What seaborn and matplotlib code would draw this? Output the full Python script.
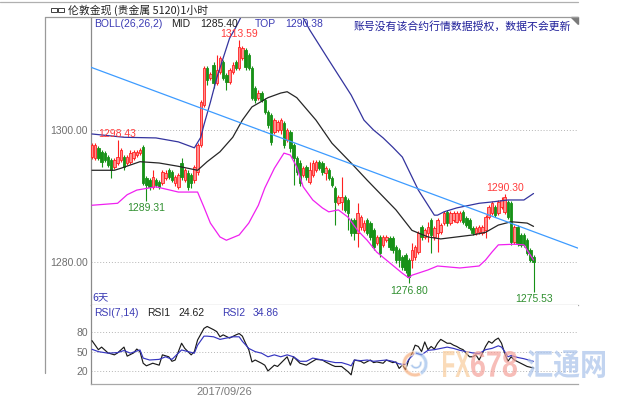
import numpy as np
import pandas as pd
import matplotlib
matplotlib.use("Agg")
import matplotlib.pyplot as plt
import seaborn as sns
from matplotlib.lines import Line2D
from matplotlib.patches import Polygon, Rectangle, Wedge, PathPatch
from matplotlib.textpath import TextPath
from matplotlib.font_manager import FontProperties
from matplotlib.transforms import Affine2D, IdentityTransform

# ---------------- data ----------------
open_ = [1295.9,1295.8,1297.3,1296.7,1296.5,1295.9,1295.5,1294.4,1295.0,1295.5,
         1295.9,1295.0,1295.2,1295.8,1296.2,1296.5,1297.4,1292.7,1292.4,1291.4,
         1292.4,1292.1,1292.0,1292.7,1293.9,1293.6,1292.0,1291.4,1295.0,1292.4,
         1293.5,1293.2,1292.4,1293.6,1297.7,1303.8,1309.4,1307.9,1309.9,1307.1,
         1308.8,1310.3,1308.3,1307.3,1308.8,1310.3,1309.4,1310.9,1312.1,1311.4,
         1309.4,1306.4,1304.9,1305.6,1304.5,1302.7,1302.3,1299.7,1300.0,1300.0,
         1301.1,1298.5,1299.7,1297.7,1295.8,1295.0,1293.2,1294.4,1292.1,1293.2,
         1293.9,1295.2,1295.0,1293.5,1293.9,1292.7,1291.2,1288.9,1289.1,1289.9,
         1289.4,1286.4,1286.4,1284.4,1285.3,1284.8,1286.4,1285.9,1284.8,1282.9,
         1283.8,1282.6,1283.3,1283.6,1283.6,1282.3,1281.8,1280.8,1281.1,1280.3,
         1280.3,1280.8,1281.5,1285.3,1283.8,1284.4,1286.4,1283.8,1284.4,1284.5,
         1285.9,1287.6,1285.9,1286.4,1286.1,1286.4,1287.6,1286.7,1286.4,1285.2,
         1284.4,1284.5,1284.4,1284.8,1286.8,1287.4,1288.3,1287.4,1288.3,1287.6,
         1289.1,1288.9,1283.0,1285.3,1284.1,1284.1,1283.3,1281.8,1280.8]
high = [1298.0,1298.0,1297.6,1297.0,1296.8,1296.2,1295.8,1295.8,1298.43,1297.3,
        1296.2,1296.2,1297.0,1297.0,1297.0,1297.3,1297.7,1293.0,1292.7,1293.9,
        1292.7,1292.4,1293.9,1293.9,1294.2,1293.9,1293.2,1293.5,1295.8,1294.2,
        1293.9,1293.5,1294.7,1298.0,1304.5,1309.7,1309.7,1308.8,1310.3,1311.4,
        1311.2,1310.6,1308.6,1309.4,1310.3,1310.6,1313.59,1312.7,1312.4,1311.7,
        1309.7,1306.7,1306.1,1305.9,1304.9,1303.0,1302.6,1301.8,1301.5,1301.8,
        1301.4,1300.3,1300.0,1298.0,1296.1,1295.5,1294.5,1294.7,1295.2,1295.5,
        1295.5,1295.5,1295.3,1294.5,1294.2,1293.0,1291.5,1290.2,1292.9,1290.2,
        1289.7,1286.7,1286.7,1288.9,1287.1,1286.4,1286.7,1286.2,1285.2,1284.1,
        1284.1,1284.1,1284.1,1283.9,1283.9,1282.6,1282.1,1281.1,1281.4,1280.6,
        1282.9,1282.6,1284.7,1285.6,1285.2,1286.1,1286.7,1285.5,1286.7,1285.9,
        1287.7,1287.9,1287.7,1287.7,1287.7,1287.7,1287.9,1287.0,1286.7,1285.5,
        1285.5,1285.6,1285.6,1287.1,1288.6,1289.2,1288.6,1289.4,1289.9,1290.30,
        1289.4,1289.2,1285.6,1285.6,1284.4,1284.4,1283.6,1282.1,1281.1]
low = [1295.6,1295.5,1295.5,1294.4,1295.2,1294.4,1292.7,1294.1,1294.7,1295.2,
       1293.9,1294.7,1294.8,1295.5,1295.9,1296.2,1291.7,1289.31,1290.9,1291.1,
       1291.4,1291.1,1291.7,1292.4,1292.6,1292.1,1291.5,1291.1,1292.4,1292.1,
       1290.9,1291.2,1292.0,1293.2,1297.4,1303.5,1306.8,1307.6,1306.4,1306.8,
       1308.5,1307.6,1306.1,1307.0,1308.5,1309.1,1309.1,1310.6,1309.1,1309.1,
       1304.5,1304.1,1304.5,1304.2,1302.4,1300.3,1297.7,1299.4,1299.7,1299.4,
       1297.3,1298.2,1296.7,1291.7,1293.2,1291.5,1292.9,1292.4,1291.8,1292.9,
       1293.6,1293.9,1293.2,1292.4,1292.4,1291.4,1285.6,1288.6,1287.9,1287.6,
       1284.8,1283.9,1283.3,1282.3,1284.8,1284.5,1284.1,1283.3,1281.8,1282.6,
       1280.8,1282.3,1283.0,1281.8,1281.4,1279.9,1279.3,1278.8,1278.3,1276.80,
       1279.1,1280.3,1281.2,1283.3,1283.5,1283.0,1281.4,1283.3,1281.5,1284.2,
       1285.6,1285.5,1285.6,1286.1,1285.9,1286.1,1285.8,1285.3,1284.8,1284.1,
       1284.1,1284.2,1284.1,1283.6,1286.5,1287.1,1286.8,1287.1,1288.0,1287.3,
       1286.5,1282.6,1282.7,1282.4,1282.3,1282.3,1281.1,1280.0,1275.53]
close = [1297.7,1297.7,1295.8,1295.2,1295.5,1294.7,1293.9,1295.5,1295.9,1297.0,
         1294.4,1295.9,1296.5,1296.7,1296.7,1297.0,1292.0,1291.7,1291.4,1292.9,
         1291.7,1291.4,1293.6,1293.5,1292.9,1292.4,1292.9,1293.2,1292.9,1293.9,
         1291.4,1292.0,1294.4,1297.7,1304.2,1309.4,1307.6,1308.5,1307.1,1309.1,
         1310.9,1307.9,1307.3,1309.1,1309.9,1309.4,1312.6,1312.4,1309.5,1309.4,
         1304.9,1304.5,1305.6,1304.5,1302.7,1300.8,1298.2,1301.5,1301.2,1301.5,
         1297.7,1300.0,1297.3,1295.8,1293.6,1292.0,1294.2,1292.9,1293.9,1295.0,
         1295.2,1294.2,1293.6,1294.2,1292.7,1291.7,1289.1,1289.9,1289.9,1287.9,
         1287.4,1284.4,1284.4,1287.4,1286.8,1285.9,1284.4,1283.8,1282.3,1283.8,
         1281.4,1283.8,1283.8,1282.3,1281.8,1280.3,1280.3,1279.3,1278.8,1277.7,
         1281.8,1282.3,1284.4,1283.8,1284.8,1285.3,1284.1,1285.2,1286.4,1285.6,
         1287.4,1285.9,1287.4,1287.4,1287.4,1287.4,1286.1,1285.6,1285.2,1284.4,
         1285.2,1285.3,1285.3,1286.8,1288.3,1288.9,1287.1,1289.1,1289.4,1289.9,
         1286.8,1283.0,1285.3,1282.9,1282.6,1282.6,1281.4,1280.3,1280.0]

upper_idx = [0, 10, 20, 27, 32, 34, 35, 37, 39, 41, 43, 45, 48, 55, 62, 66, 68, 74, 81, 85,
             88, 91, 94, 97, 99, 102, 107, 108, 110, 114, 121, 125, 130, 135, 138]
upper_val = [1299.4, 1298.9, 1298.8, 1298.2, 1297.3, 1298.9, 1300.8, 1304.2, 1307.9, 1310.9,
             1313.9, 1315.6, 1318.5, 1321.0, 1320.5, 1317.0, 1315.2, 1310.6, 1305.3, 1301.5,
             1300.0, 1298.8, 1297.4, 1295.9, 1293.9, 1290.9, 1287.1, 1287.1, 1287.6, 1288.2,
             1288.9, 1289.1, 1289.4, 1289.4, 1290.38]
mid_idx = [0, 7, 9, 15, 21, 27, 33, 36, 40, 44, 47, 50, 55, 59, 61, 64, 70, 75, 81, 86,
           91, 95, 100, 105, 109, 114, 119, 123, 127, 131, 136, 138]
mid_val = [1293.9, 1293.9, 1294.2, 1295.2, 1295.0, 1294.5, 1293.9, 1295.2, 1296.7, 1298.9,
           1301.5, 1303.5, 1304.9, 1305.6, 1305.8, 1304.9, 1301.5, 1298.0, 1295.0, 1292.4,
           1289.9, 1287.9, 1284.8, 1283.8, 1283.5, 1283.8, 1284.1, 1284.5, 1285.6, 1286.1,
           1285.9, 1285.40]
lower_idx = [0, 8, 11, 14, 20, 27, 33, 35, 37, 40, 42, 46, 49, 52, 54, 57, 60, 62, 64, 66,
             69, 72, 74, 77, 80, 83, 86, 89, 93, 97, 99, 100, 105, 108, 115, 121, 123, 125,
             127, 132, 135, 136, 138]
lower_val = [1288.6, 1288.9, 1290.2, 1290.9, 1291.4, 1290.6, 1290.6, 1288.3, 1285.9, 1283.8,
             1283.3, 1284.1, 1285.9, 1288.6, 1291.2, 1294.2, 1296.5, 1296.2, 1294.4, 1291.4,
             1289.4, 1288.2, 1287.6, 1287.9, 1286.8, 1284.8, 1283.3, 1281.5, 1279.9, 1278.3,
             1277.6, 1278.0, 1278.8, 1279.4, 1279.1, 1279.4, 1280.3, 1281.5, 1282.6, 1282.7,
             1282.6, 1281.8, 1280.3]
trend_idx = [-0.3, 151.9]
trend_val = [1309.5, 1282.1]

rsi1_idx = [0,2,3,5,7,8,10,11,13,14,15,16,17,19,21,22,24,25,26,28,
            29,31,32,33,35,36,38,39,40,41,43,45,46,47,48,49,50,51,53,54,
            55,57,58,61,62,63,65,67,70,72,73,75,76,78,80,81,82,84,85,87,
            88,89,91,92,94,95,96,97,98,99,100,101,102,103,104,105,106,107,108,109,
            110,111,112,113,114,115,116,117,118,119,120,121,122,123,124,125,126,127,128,129,
            130,131,132,134,136,138]
rsi1_val = [67,53,57,48,45,48,57,43,48,54,50,32,28,32,29,45,42,35,37,63,
            55,45,50,68,86,89,84,81,73,76,71,76,78,74,63,53,34,37,32,29,
            20,29,27,42,29,42,32,29,38,37,34,29,27,27,19,14,37,35,32,37,
            33,34,32,37,33,34,24,29,22,37,47,60,58,50,65,53,58,54,63,69,
            66,63,63,60,58,55,53,47,42,42,45,37,47,58,66,63,68,71,63,47,
            35,42,37,32,27,24.62]
rsi2_idx = [0,2,5,8,10,12,15,16,18,21,23,25,28,30,32,33,35,36,38,40,
            42,44,46,47,49,51,53,55,57,59,61,63,65,67,69,71,74,76,78,80,
            81,82,84,86,88,90,92,94,96,98,99,101,103,105,107,109,111,113,115,117,
            119,121,123,125,127,128,129,130,131,133,135,138]
rsi2_val = [53.6,50,47.6,48.5,51.7,47.6,52.6,40,37,38,42,38,52.6,50,47.6,60,74,74,73,69,
            71,73,73,66,55,50,47.6,42,45,42,45,42,35,35,40,38,35,33,33,30,
            28,37,36,37,35,36,37,35,31,30,38,48,45,52,53,55,57,55,52,50,
            48,47,53,55,59,57,50,42,44,41,39,34.86]

price_ticks = [1280, 1300]
price_tick_labels = ["1280.00", "1300.00"]
rsi_ticks = [20, 50, 80]
rsi_tick_labels = ["20", "50", "80"]
time_tick_idx = [114]
date_label = "2017/09/26"

ext_idx = [8, 46, 129, 17, 99, 138]
ext_val = [1298.43, 1313.59, 1290.30, 1289.31, 1276.80, 1275.53]
ext_kind = ["high", "high", "high", "low", "low", "low"]

# ---------------- style ----------------
sns.set_style("white")
plt.rcParams['font.family'] = ['Liberation Sans', 'Noto Sans CJK SC', 'DejaVu Sans']

W, H = 623, 400
fig = plt.figure(figsize=(W / 100, H / 100), dpi=100)
fig.patch.set_facecolor("white")
fx = lambda x: x / W
fy = lambda y: 1 - y / H

ax = fig.add_axes([fx(91), fy(305), fx(578) - fx(91), fy(17) - fy(305)])
rx = fig.add_axes([fx(91), fy(384), fx(578) - fx(91), fy(305) - fy(384)])

UP_EDGE, UP_FACE, DN = "#ff2020", "#ff8f8f", "#179117"
BLUE_T, DARK = "#3a3ab4", "#202020"

# candles
o = np.array(open_); c = np.array(close)
h = np.maximum(np.array(high), np.maximum(o, c))
l = np.minimum(np.array(low), np.minimum(o, c))
idx = np.arange(len(c))
up = c >= o
ax.vlines(idx[up], l[up], h[up], color=UP_EDGE, lw=0.8, zorder=2)
ax.vlines(idx[~up], l[~up], h[~up], color=DN, lw=0.8, zorder=2)
bh = np.maximum(np.abs(c - o), 0.12)
bb = np.minimum(o, c)
ax.bar(idx[up], bh[up], bottom=bb[up], width=0.78, color=UP_FACE,
       edgecolor=UP_EDGE, linewidth=0.6, zorder=3)
ax.bar(idx[~up], bh[~up], bottom=bb[~up], width=0.78, color=DN,
       edgecolor=DN, linewidth=0.6, zorder=3)

# bands & trend line
bands = pd.concat([
    pd.DataFrame({"i": upper_idx, "v": upper_val, "k": "TOP"}),
    pd.DataFrame({"i": mid_idx, "v": mid_val, "k": "MID"}),
    pd.DataFrame({"i": lower_idx, "v": lower_val, "k": "BOT"}),
    pd.DataFrame({"i": trend_idx, "v": trend_val, "k": "TREND"}),
])
sns.lineplot(data=bands, x="i", y="v", hue="k", estimator=None, sort=False,
             palette={"TOP": "#34349e", "MID": "#262626", "BOT": "#f020f0", "TREND": "#3d9bff"},
             legend=False, ax=ax, linewidth=0.9, zorder=4)

# extremes labels
for i, v, k in zip(ext_idx, ext_val, ext_kind):
    if k == "high":
        ax.annotate(f"{v:.2f}", (i, v), xytext=(0, 1), textcoords="offset points",
                    ha="center", va="bottom", color="#ff3b3b", fontsize=7.5, zorder=6)
    else:
        ax.annotate(f"{v:.2f}", (i, v), xytext=(0, -2), textcoords="offset points",
                    ha="center", va="top", color="#2f8f2f", fontsize=7.5, zorder=6)

# RSI
rsi = pd.concat([
    pd.DataFrame({"i": rsi1_idx, "v": rsi1_val, "k": "RSI1"}),
    pd.DataFrame({"i": rsi2_idx, "v": rsi2_val, "k": "RSI2"}),
])
sns.lineplot(data=rsi, x="i", y="v", hue="k", estimator=None, sort=False,
             palette={"RSI1": "#1a1a1a", "RSI2": "#3535c0"}, legend=False,
             ax=rx, linewidth=0.85, zorder=3)

# axes cosmetics
for a, ylim, ticks, labels in [(ax, (1273.49, 1317.12), price_ticks, price_tick_labels),
                               (rx, (-0.2, 122.3), rsi_ticks, rsi_tick_labels)]:
    a.set_xlim(-0.31, 151.9)
    a.set_ylim(*ylim)
    a.set_xlabel(""); a.set_ylabel("")
    a.set_facecolor("white")
    for t in ticks:
        a.axhline(t, color="#b5b5b5", lw=0.7, ls=(0, (1, 2)), zorder=1)
    a.set_yticks(ticks)
    a.set_yticklabels(labels)
    a.tick_params(axis="y", length=0, pad=2.2, labelsize=7.5, labelcolor="#6e6e6e")
    a.set_xticks(time_tick_idx)
    a.set_xticklabels([""])
    a.tick_params(axis="x", direction="in", length=6, width=0.8, color="#808080")
    a.spines["right"].set_visible(False)
    a.spines["top"].set_visible(False)
    a.spines["left"].set_color("#8a8a8a")
    a.spines["bottom"].set_color("#a8a8a8")
    for s in a.spines.values():
        s.set_linewidth(0.9)

# frame lines
def fline(x0, y0, x1, y1, color="#9a9a9a", lw=0.9):
    fig.add_artist(Line2D([fx(x0), fx(x1)], [fy(y0), fy(y1)], color=color, lw=lw,
                          transform=fig.transFigure))
fline(0, 1.5, 578, 1.5, "#b0b0b0")
fline(45, 17, 578, 17, "#9a9a9a")
fline(45, 17, 45, 373, "#9a9a9a")
fig.add_artist(Polygon([[fx(571), fy(17)], [fx(578), fy(17)], [fx(578), fy(24)]],
                       closed=True, color="#7a7a7a", transform=fig.transFigure))

# title
for x0 in (51, 58):
    fig.add_artist(Rectangle((fx(x0), fy(12)), fx(6), 4 / H, fill=False, ec="#404040",
                             lw=0.7, transform=fig.transFigure))
fig.text(fx(68), fy(10), "伦敦金现 (贵金属 5120)1小时", fontsize=7.8, color="#202020",
         va="center", ha="left", family=["Noto Sans CJK SC", "DejaVu Sans"])

# header texts
def ht(x, y, s, col, **kw):
    fig.text(fx(x), fy(y), s, color=col, fontsize=7.5, va="center", ha="left", **kw)
ht(94, 24, "BOLL(26,26,2)", BLUE_T)
ht(171, 24, "MID", DARK)
ht(200, 24, "1285.40", DARK)
ht(255, 24, "TOP", BLUE_T)
ht(285, 24, "1290.38", BLUE_T)
fig.text(fx(571), fy(26), "账号没有该合约行情数据授权，数据不会更新", color="#1f1f9a",
         fontsize=7.8, va="center", ha="right", family=["Noto Sans CJK SC", "DejaVu Sans"])
ht(92, 297, "6天", BLUE_T, family=["Noto Sans CJK SC", "DejaVu Sans"])
ht(94, 313, "RSI(7,14)", BLUE_T)
ht(147, 313, "RSI1", DARK)
ht(178, 313, "24.62", DARK)
ht(222, 313, "RSI2", BLUE_T)
ht(253, 313, "34.86", BLUE_T)
fig.text(fx(224), fy(392), date_label, color="#7a7a7a", fontsize=8, ha="center", va="center")

# watermark (FX678 汇通网)
def wm_text(s, x0, x1, ytop, ybot, color, family):
    fp = FontProperties(family=family, weight="bold")
    tp = TextPath((0, 0), s, size=10, prop=fp)
    ext = tp.get_extents()
    sx = (x1 - x0) / ext.width
    sy = (ybot - ytop) / ext.height
    tr = Affine2D().translate(-ext.x0, -ext.y0).scale(sx, sy).translate(x0, H - ybot)
    fig.add_artist(PathPatch(tr.transform_path(tp), facecolor=color, edgecolor="none",
                             alpha=0.7, transform=IdentityTransform(), zorder=5))
wm_text("FX", 443, 470, 351, 377, "#f8cc9c", "Liberation Sans")
wm_text("678", 471, 517, 351, 377, "#f4a29a", "Liberation Sans")
wm_text("汇通网", 527, 605, 350, 378, "#a9c2ea", "Noto Sans CJK SC")
fig.add_artist(Wedge((415, H - 364), 13, 90, 300, width=4, facecolor="#f6a36a",
                     alpha=0.6, transform=IdentityTransform(), zorder=5))
fig.add_artist(Wedge((415, H - 364), 13, 300, 450, width=4, facecolor="#8fb4e8",
                     alpha=0.6, transform=IdentityTransform(), zorder=5))
fig.add_artist(Wedge((416, H - 363), 6, 200, 380, width=2.5, facecolor="#6f9fe0",
                     alpha=0.6, transform=IdentityTransform(), zorder=5))

fig.savefig("out.png", dpi=100, facecolor="white")
